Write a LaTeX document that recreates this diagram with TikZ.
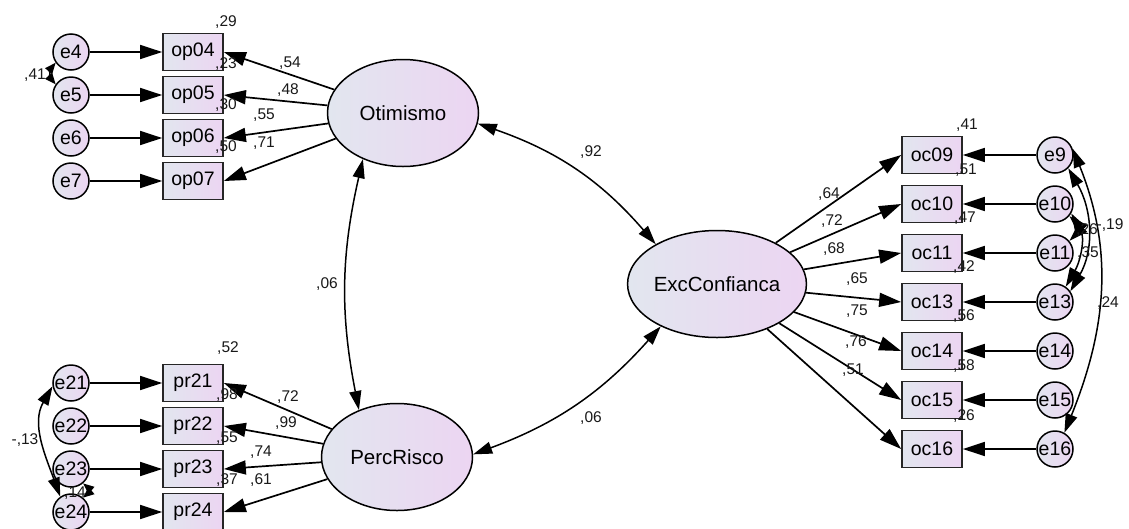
\documentclass[tikz,border=0pt]{standalone}
\usepackage{fontspec}
\setmainfont{Liberation Sans}
\usetikzlibrary{positioning}
\usetikzlibrary{arrows}
\usetikzlibrary{shapes}
\usetikzlibrary{arrows.meta}
\definecolor{shadeL}{RGB}{226,230,239}
\definecolor{shadeR}{RGB}{236,213,242}
\tikzstyle{lat}=[ellipse,draw=black,line width=1.5pt,left color=shadeL,right color=shadeR,minimum width=151pt,minimum height=107pt,inner sep=0pt,font=\fontsize{20.5}{24}\selectfont]
\tikzstyle{obs}=[rectangle,draw=black!85,line width=1.7pt,left color=shadeL,right color=shadeR,minimum width=60pt,minimum height=37pt,inner sep=0pt,font=\fontsize{19.5}{22}\selectfont]
\tikzstyle{err}=[circle,draw=black,line width=1.5pt,left color=shadeL,right color=shadeR,minimum size=36pt,inner sep=0pt,font=\fontsize{19.5}{22}\selectfont]
\tikzstyle{est}=[inner sep=0pt,text=black!90,font=\fontsize{15.5}{18}\selectfont]
\tikzstyle{reg}=[line width=1.7pt,-{Triangle[length=22pt,width=14pt]}]
\tikzstyle{cov}=[line width=1.5pt,{Triangle[length=19pt,width=12pt]}-{Triangle[length=19pt,width=12pt]}]
\tikzstyle{covs}=[line width=1.5pt,{Triangle[length=11pt,width=9pt]}-{Triangle[length=11pt,width=9pt]}]

\begin{document}
\begin{tikzpicture}[x=1pt,y=-1pt,node distance=43pt]
\useasboundingbox (0,0) rectangle (1129,528);

% latent variables
\node [lat] (Otimismo) at (403,113) {Otimismo};
\node [lat] (PercRisco) at (397,457) {PercRisco};
\node [lat] (ExcConfianca) at (717,284) {ExcConfianca};

% Otimismo block
\node [err] (e4) at (71,52) {e4};
\node [err, below of=e4] (e5) {e5};
\node [err, below of=e5] (e6) {e6};
\node [err, below of=e6] (e7) {e7};
\node [obs, right of=e4, node distance=122pt] (op04) {op04};
\node [obs, right of=e5, node distance=122pt] (op05) {op05};
\node [obs, right of=e6, node distance=122pt] (op06) {op06};
\node [obs, right of=e7, node distance=122pt] (op07) {op07};

% PercRisco block
\node [err] (e21) at (71,383) {e21};
\node [err, below of=e21] (e22) {e22};
\node [err, below of=e22] (e23) {e23};
\node [err, below of=e23] (e24) {e24};
\node [obs, right of=e21, node distance=122pt] (pr21) {pr21};
\node [obs, right of=e22, node distance=122pt] (pr22) {pr22};
\node [obs, right of=e23, node distance=122pt] (pr23) {pr23};
\node [obs, right of=e24, node distance=122pt] (pr24) {pr24};

% ExcConfianca block
\node [obs] (oc09) at (932,155) {oc09};
\node [obs, below of=oc09, node distance=49pt] (oc10) {oc10};
\node [obs, below of=oc10, node distance=49pt] (oc11) {oc11};
\node [obs, below of=oc11, node distance=49pt] (oc13) {oc13};
\node [obs, below of=oc13, node distance=49pt] (oc14) {oc14};
\node [obs, below of=oc14, node distance=49pt] (oc15) {oc15};
\node [obs, below of=oc15, node distance=49pt] (oc16) {oc16};
\node [err, right of=oc09, node distance=123pt] (e9) {e9};
\node [err, right of=oc10, node distance=123pt] (e10) {e10};
\node [err, right of=oc11, node distance=123pt] (e11) {e11};
\node [err, right of=oc13, node distance=123pt] (e13) {e13};
\node [err, right of=oc14, node distance=123pt] (e14) {e14};
\node [err, right of=oc15, node distance=123pt] (e15) {e15};
\node [err, right of=oc16, node distance=123pt] (e16) {e16};

% errors to items
\draw [reg] (e4) -- (op04);
\draw [reg] (e5) -- (op05);
\draw [reg] (e6) -- (op06);
\draw [reg] (e7) -- (op07);
\draw [reg] (e21) -- (pr21);
\draw [reg] (e22) -- (pr22);
\draw [reg] (e23) -- (pr23);
\draw [reg] (e24) -- (pr24);
\draw [reg] (e9) -- (oc09);
\draw [reg] (e10) -- (oc10);
\draw [reg] (e11) -- (oc11);
\draw [reg] (e13) -- (oc13);
\draw [reg] (e14) -- (oc14);
\draw [reg] (e15) -- (oc15);
\draw [reg] (e16) -- (oc16);

% loadings
\draw [reg] (Otimismo) -- (op04.east);
\draw [reg] (Otimismo) -- (op05.east);
\draw [reg] (Otimismo) -- (op06.east);
\draw [reg] (Otimismo) -- (op07.east);
\draw [reg] (PercRisco) -- (pr21.east);
\draw [reg] (PercRisco) -- (pr22.east);
\draw [reg] (PercRisco) -- (pr23.east);
\draw [reg] (PercRisco) -- (pr24.east);
\draw [reg] (ExcConfianca) -- (oc09.west);
\draw [reg] (ExcConfianca) -- (oc10.west);
\draw [reg] (ExcConfianca) -- (oc11.west);
\draw [reg] (ExcConfianca) -- (oc13.west);
\draw [reg] (ExcConfianca) -- (oc14.west);
\draw [reg] (ExcConfianca) -- (oc15.west);
\draw [reg] (ExcConfianca) -- (oc16.west);

% covariances
\draw [cov] (Otimismo.-8) to [bend left=15] (ExcConfianca.147);
\draw [cov] (PercRisco.2) to [bend right=14] (ExcConfianca.217);
\draw [cov] (Otimismo.229) to [bend right=12] (PercRisco.129);
\draw [covs] (e4.215) to [out=230,in=130] (e5.145);
\draw [cov] (e21.190) to [out=240,in=110] (e24.125);
\draw [covs] (e23.-50) to [out=-40,in=40] (e24.50);
\draw [cov] (e9.20) to [out=-68,in=68] (e16.60);
\draw [cov] (e9.-45) to [out=-60,in=60] (e13.35);
\draw [cov] (e10.-30) to [out=-60,in=60] (e13.55);
\draw [cov] (e10.-40) to [out=-45,in=45] (e11.40);

% estimates
\node [est] (r2op04) at (226,22) {,29};
\node [est] (r2op05) at (226,64) {,23};
\node [est] (r2op06) at (226,105) {,30};
\node [est] (r2op07) at (226,147) {,50};
\node [est] (ldop04) at (290,63) {,54};
\node [est] (ldop05) at (288,90) {,48};
\node [est] (ldop06) at (264,115) {,55};
\node [est] (ldop07) at (264,143) {,71};
\node [est] (cve4e5) at (35,75) {,41};

\node [est] (r2pr21) at (228,348) {,52};
\node [est] (r2pr22) at (227,395) {,98};
\node [est] (r2pr23) at (227,438) {,55};
\node [est] (r2pr24) at (227,480) {,37};
\node [est] (ldpr21) at (288,397) {,72};
\node [est] (ldpr22) at (286,423) {,99};
\node [est] (ldpr23) at (261,452) {,74};
\node [est] (ldpr24) at (261,480) {,61};
\node [est] (cve21e24) at (25,440) {-,13};
\node [est] (cve23e24) at (75,493) {,14};

\node [est] (cvOtEx) at (591,152) {,92};
\node [est] (cvOtPr) at (327,284) {,06};
\node [est] (cvPrEx) at (591,418) {,06};

\node [est] (ldoc09) at (829,194) {,64};
\node [est] (ldoc10) at (832,221) {,72};
\node [est] (ldoc11) at (834,249) {,68};
\node [est] (ldoc13) at (857,279) {,65};
\node [est] (ldoc14) at (857,311) {,75};
\node [est] (ldoc15) at (856,342) {,76};
\node [est] (ldoc16) at (853,370) {,51};
\node [est] (r2oc09) at (967,125) {,41};
\node [est] (r2oc10) at (966,170) {,51};
\node [est] (r2oc11) at (965,218) {,47};
\node [est] (r2oc13) at (964,267) {,42};
\node [est] (r2oc14) at (964,316) {,56};
\node [est] (r2oc15) at (964,366) {,58};
\node [est] (r2oc16) at (964,416) {,26};
\node [est] (cve10e11) at (1087,230) {,26};
\node [est] (cve9e13) at (1110,225) {-,19};
\node [est] (cve10e13) at (1088,253) {,35};
\node [est] (cve9e16) at (1108,303) {,24};

\end{tikzpicture}
\end{document}
